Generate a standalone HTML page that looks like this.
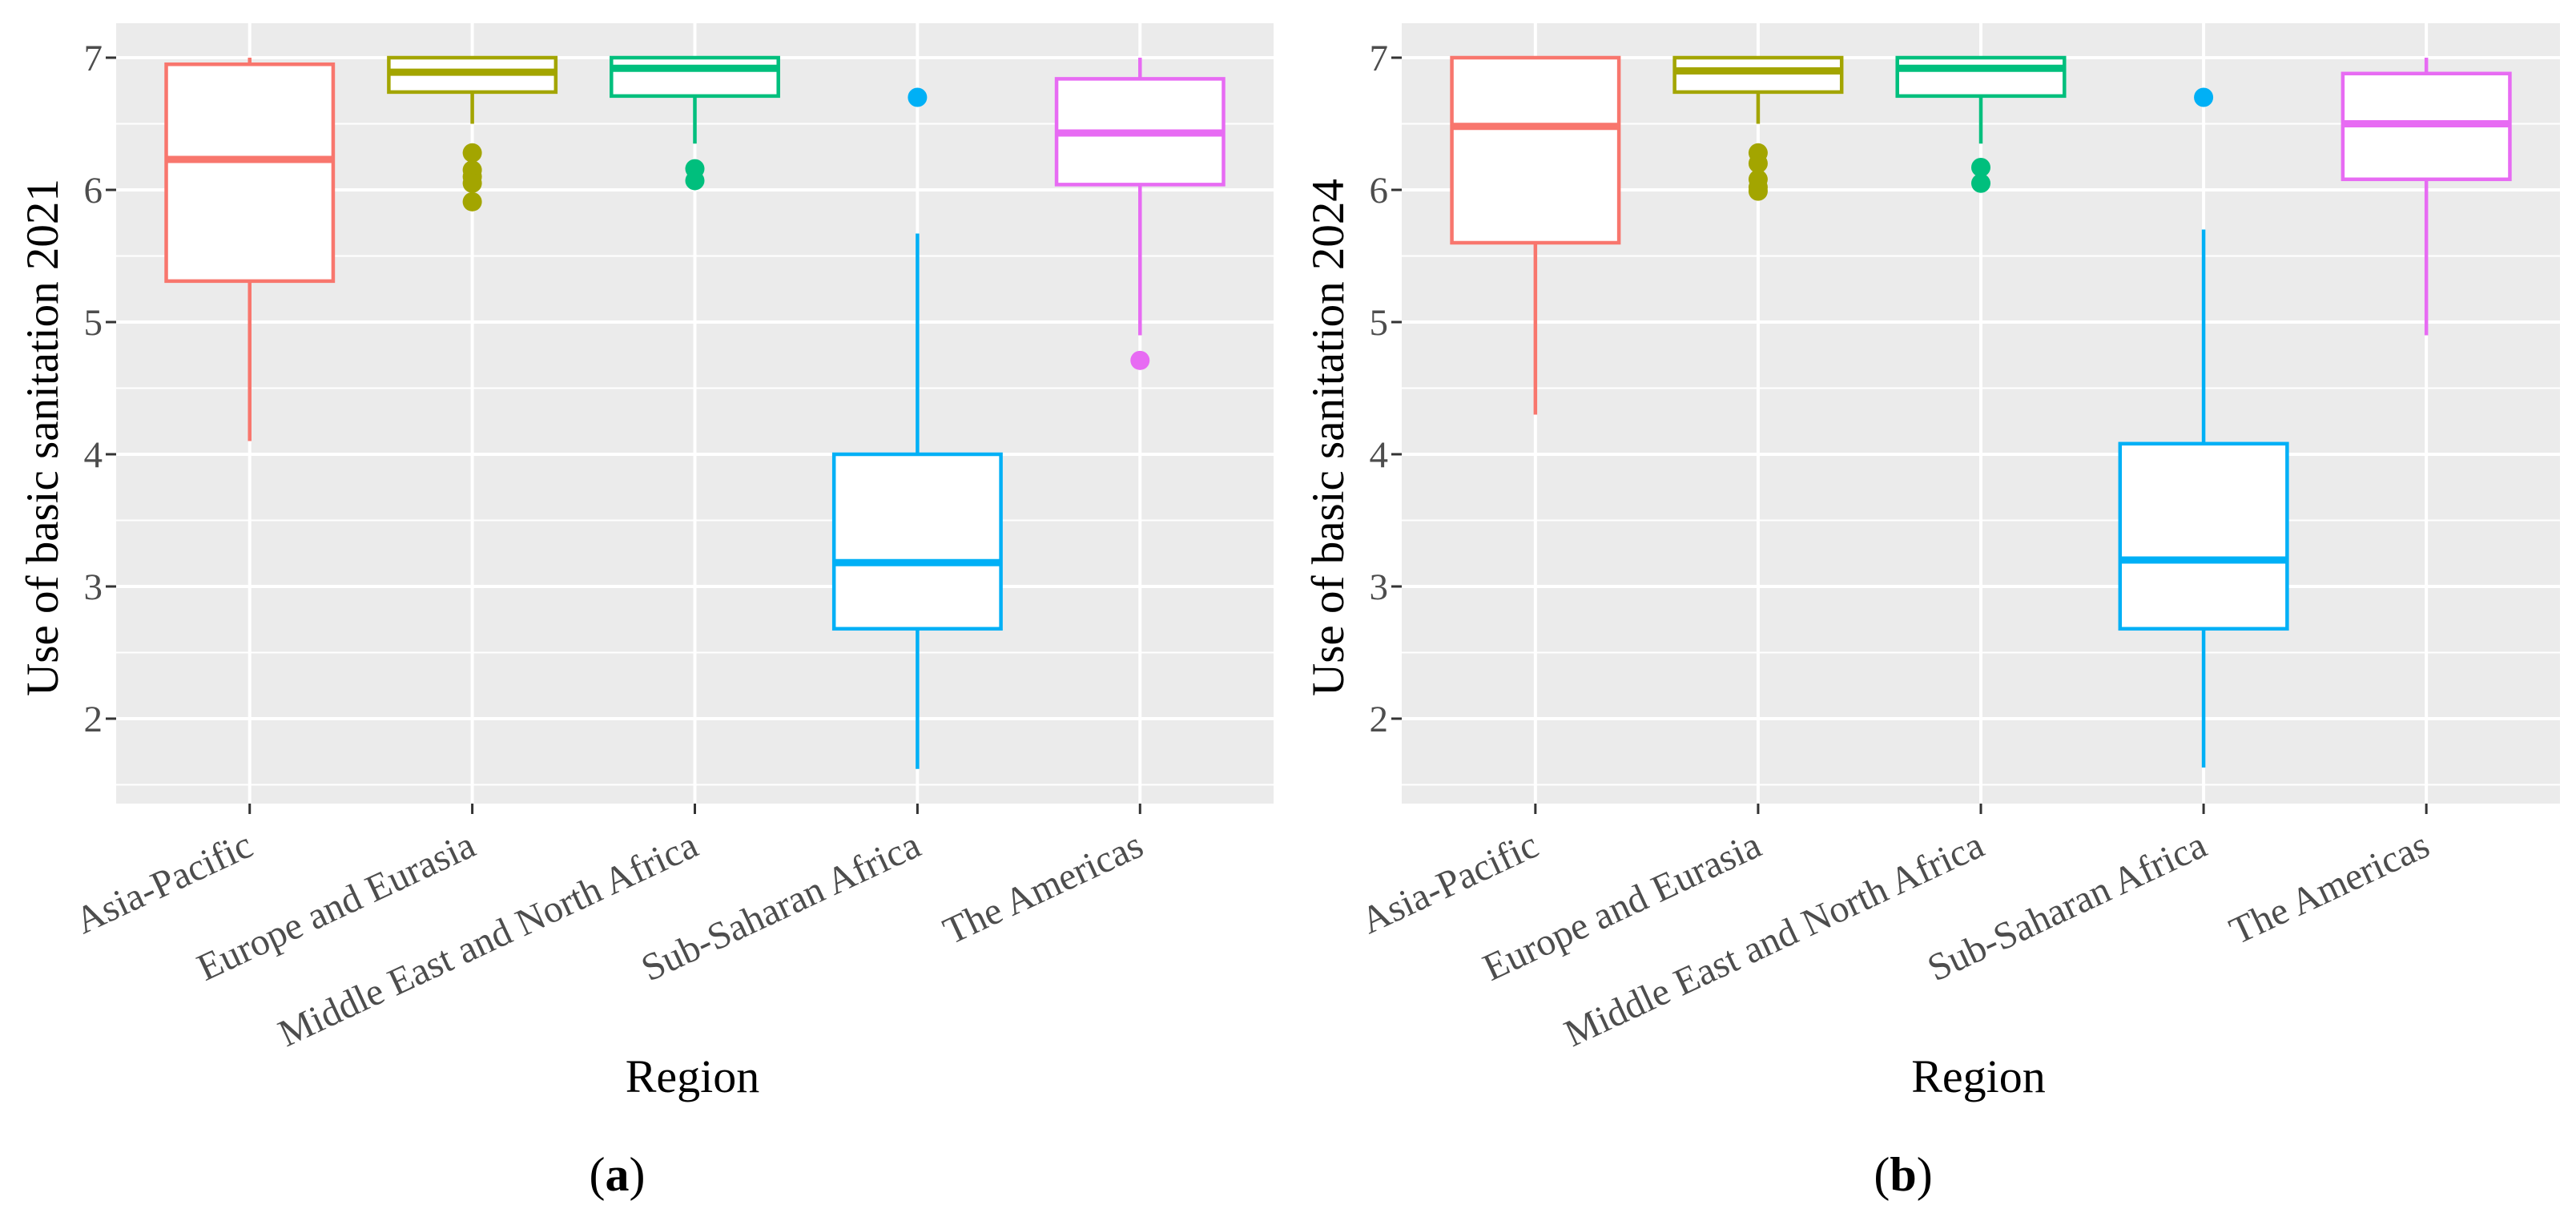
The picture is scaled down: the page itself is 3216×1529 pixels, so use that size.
<!DOCTYPE html>
<html><head><meta charset="utf-8">
<style>
html,body{margin:0;padding:0;background:#fff;}
svg{display:block;}
text{font-family:"Liberation Serif",serif;}
</style></head>
<body>
<svg id="fig" width="3216" height="1529" viewBox="0 0 3216 1529" xmlns="http://www.w3.org/2000/svg"></svg>
<script>
const categories = ["Asia-Pacific","Europe and Eurasia","Middle East and North Africa","Sub-Saharan Africa","The Americas"];
const colors = ["#F8766D","#A3A500","#00BF7D","#00B0F6","#E76BF3"];
const yTicks = [2,3,4,5,6,7];
// panel a (2021): [lowerWhisker, Q1, median, Q3, upperWhisker]
const stats2021 = [[4.1,5.31,6.23,6.95,7.0],[6.5,6.74,6.89,7.0,7.0],[6.35,6.71,6.92,7.0,7.0],[1.62,2.68,3.18,4.0,5.67],[4.9,6.04,6.43,6.84,7.0]];
const outliers2021 = [[],[6.28,6.15,6.1,6.05,5.91],[6.16,6.07],[6.7],[4.71]];
// panel b (2024)
const stats2024 = [[4.3,5.6,6.48,7.0,7.0],[6.5,6.74,6.9,7.0,7.0],[6.35,6.71,6.92,7.0,7.0],[1.63,2.68,3.2,4.08,5.7],[4.9,6.08,6.5,6.88,7.0]];
const outliers2024 = [[],[6.28,6.2,6.08,6.02,5.99],[6.17,6.05],[6.7],[]];

const NS="http://www.w3.org/2000/svg";
const svg=document.getElementById('fig');
function mk(tag,attrs,parent){const e=document.createElementNS(NS,tag);for(const k in attrs)e.setAttribute(k,attrs[k]);(parent||svg).appendChild(e);return e;}

function drawPanel(left,right,stats,outs,title,letter,panelName){
  const top=29,bottom=1003;
  const y=v=>72+(7-v)*165;
  const step=(right-left)/5.2;
  const x=i=>left+step*(0.6+i);
  const g=mk('g',{});
  
  
  const bg=mk('rect',{x:left,y:top,width:right-left,height:bottom-top,fill:'#EBEBEB'},g);
  
  
  for(let v=1.5;v<=7.0;v+=1){const l=mk('line',{x1:left,x2:right,y1:y(v),y2:y(v),stroke:'#fff','stroke-width':2},g);
    }
  yTicks.forEach(v=>{
    const l=mk('line',{x1:left,x2:right,y1:y(v),y2:y(v),stroke:'#fff','stroke-width':4},g);
    
    const t=mk('line',{x1:left-13,x2:left,y1:y(v),y2:y(v),stroke:'#333','stroke-width':3},g);
    
    const tx=mk('text',{x:left-17,y:y(v)+16,'text-anchor':'end','font-size':47,fill:'#4d4d4d'},g);
    tx.textContent=v;
    
  });
  categories.forEach((c,i)=>{
    const l=mk('line',{x1:x(i),x2:x(i),y1:top,y2:bottom,stroke:'#fff','stroke-width':4},g);
    
    const t=mk('line',{x1:x(i),x2:x(i),y1:bottom,y2:bottom+13,stroke:'#333','stroke-width':3},g);
    
    const tx=mk('text',{x:x(i)+7,y:1066,'text-anchor':'end','font-size':48,fill:'#4d4d4d',transform:`rotate(-25 ${x(i)+7} 1066)`},g);
    tx.textContent=c;
    
  });
  const bw=step*0.75;
  stats.forEach((s,i)=>{
    const col=colors[i];
    const bg2=mk('g',{},g);
    
    
    mk('line',{x1:x(i),x2:x(i),y1:y(s[0]),y2:y(s[1]),stroke:col,'stroke-width':4.5},bg2);
    mk('line',{x1:x(i),x2:x(i),y1:y(s[3]),y2:y(s[4]),stroke:col,'stroke-width':4.5},bg2);
    mk('rect',{x:x(i)-bw/2,y:y(s[3]),width:bw,height:y(s[1])-y(s[3]),fill:'#fff',stroke:col,'stroke-width':4.5},bg2);
    mk('line',{x1:x(i)-bw/2,x2:x(i)+bw/2,y1:y(s[2]),y2:y(s[2]),stroke:col,'stroke-width':9},bg2);
    outs[i].forEach(o=>{
      const c=mk('circle',{cx:x(i),cy:y(o),r:12,fill:col},bg2);
      
    });
  });
  const cx=(left+right)/2;
  const yt=mk('text',{x:0,y:0,'text-anchor':'middle','font-size':57,fill:'#000',transform:`translate(${left-73} 546) rotate(-90)`},g);
  yt.textContent=title;
  
  const xt=mk('text',{x:cx-3,y:1363,'text-anchor':'middle','font-size':58,fill:'#000'},g);
  xt.textContent='Region';
  
  const lb=mk('text',{x:cx-97,y:1486,'text-anchor':'middle','font-size':60,fill:'#000'},g);
  lb.innerHTML='(<tspan font-weight="bold">'+letter+'</tspan>)';
  
}
drawPanel(145,1590,stats2021,outliers2021,'Use of basic sanitation 2021','a','panel-a-2021');
drawPanel(1750,3196,stats2024,outliers2024,'Use of basic sanitation 2024','b','panel-b-2024');
</script>
</body></html>
